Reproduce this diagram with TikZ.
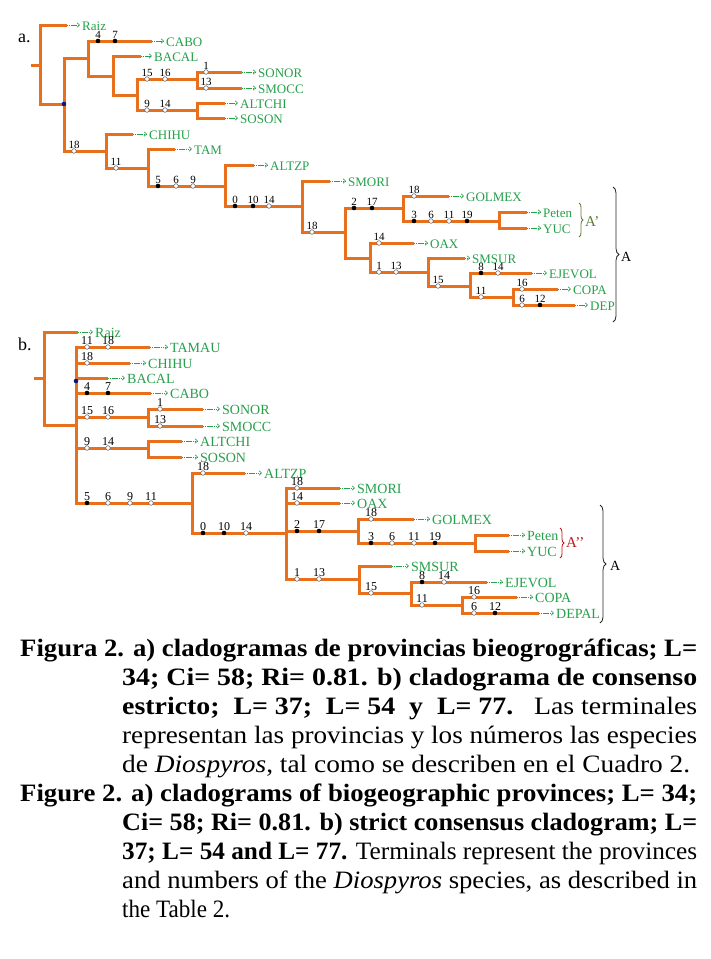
\documentclass[tikz,border=0pt]{standalone}
\usepackage{fontspec}
\setmainfont{Liberation Serif}
\usetikzlibrary{arrows.meta,decorations.pathreplacing}
\definecolor{orng}{RGB}{232,112,28}
\definecolor{lgreen}{RGB}{38,160,75}
\definecolor{olivebr}{RGB}{95,125,55}
\definecolor{dred}{RGB}{190,20,30}
\definecolor{navydot}{RGB}{20,20,120}
\tikzset{
  br/.style={draw=orng, line width=3pt, line cap=rect},
  lab/.style={text=lgreen, inner sep=0pt, font=\fontsize{13}{13}\selectfont},
  num/.style={inner sep=0pt, font=\fontsize{11}{11}\selectfont, anchor=base},
  arr/.style={draw=lgreen, line width=0.6pt, dash pattern=on 1.3pt off 0.8pt, -{Straight Barb[length=2.5pt,width=4.5pt]}, shorten >=2pt},
  opd/.style={fill=white, draw=black!65, line width=0.5pt},
  bkd/.style={fill=black},
  bracebig/.style={decorate, decoration={brace, amplitude=6pt}, line width=0.8pt, draw=black!85},
  bracesmall/.style={decorate, decoration={brace, amplitude=4pt}, line width=0.8pt},
  capt/.style={anchor=base west, inner sep=0pt, font=\fontsize{25}{25}\selectfont}
}
\newcommand{\opdot}[3]{\path[opd] (#1,#2) circle[radius=2.3pt]; \node[num] at (#1,#2-2.5) {#3};}
\newcommand{\bkdot}[3]{\path[bkd] (#1,#2) circle[radius=2.3pt]; \node[num] at (#1,#2-2.5) {#3};}
\newcommand{\cltip}[6]{%
  \draw[br] (#1,#2) -- (#3,#2);
  \coordinate (#5e) at (#3+2,#2);
  \node[lab, anchor=base west] (#5) at (#4,#2+5) {#6};
  \draw[arr] (#5e) -- (#5.west |- #5e);
}
\newcommand{\capl}[5]{\node[capt] (#1) at (#2,#3) {\resizebox{#4pt}{\height}{#5}};}
\begin{document}
\begin{tikzpicture}[x=1pt, y=-1pt]
\fill[white] (0,0) rectangle (710,959);
\useasboundingbox (0,0) rectangle (710,959);

% ---------------- tree a ----------------
\node[anchor=base west, inner sep=0pt, font=\fontsize{18}{18}\selectfont] (la) at (18,42) {a.};
\draw[br] (32,65) -- (40,65);
\draw[br] (40,25) -- (40,104);
\cltip{40}{25}{65}{82}{aRaiz}{Raiz}
\draw[br] (40,104) -- (64,104);
\draw[br] (64,58) -- (64,151);
\draw[br] (64,58) -- (88,58);
\draw[br] (88,41) -- (88,76);
\cltip{88}{41}{150}{166}{aCABO}{CABO}
\bkdot{98}{41}{4}\bkdot{115}{41}{7}
\draw[br] (88,76) -- (113,76);
\draw[br] (113,56) -- (113,95);
\cltip{113}{56}{139}{154}{aBACAL}{BACAL}
\draw[br] (113,95) -- (137,95);
\draw[br] (137,79) -- (137,110);
\draw[br] (137,79) -- (197,79);
\draw[br] (197,72) -- (197,88);
\cltip{197}{72}{240}{258}{aSONOR}{SONOR}
\cltip{197}{88}{240}{258}{aSMOCC}{SMOCC}
\opdot{147}{79}{15}\opdot{165}{79}{16}
\opdot{206}{72}{1}\opdot{206}{88}{13}
\draw[br] (137,110) -- (197,110);
\draw[br] (197,103) -- (197,118);
\cltip{197}{103}{223}{240}{aALTCHI}{ALTCHI}
\cltip{197}{118}{223}{240}{aSOSON}{SOSON}
\opdot{147}{110}{9}\opdot{165}{110}{14}
\draw[br] (64,151) -- (106,151);
\draw[br] (106,134) -- (106,168);
\cltip{106}{134}{131}{149}{aCHIHU}{CHIHU}
\draw[br] (106,168) -- (148,168);
\draw[br] (148,149) -- (148,186);
\cltip{148}{149}{173}{194}{aTAM}{TAM}
\draw[br] (148,186) -- (225,186);
\draw[br] (225,165) -- (225,206);
\cltip{225}{165}{252}{270}{aALTZP}{ALTZP}
\draw[br] (225,206) -- (302,206);
\draw[br] (302,181) -- (302,232);
\cltip{302}{181}{328}{348}{aSMORI}{SMORI}
\draw[br] (302,232) -- (345,232);
\draw[br] (345,208) -- (345,258);
\draw[br] (345,208) -- (403,208);
\draw[br] (403,196) -- (403,221);
\cltip{403}{196}{447}{466}{aGOLMEX}{GOLMEX}
\draw[br] (403,221) -- (499,221);
\draw[br] (499,212) -- (499,228);
\cltip{499}{212}{525}{543}{aPeten}{Peten}
\cltip{499}{228}{525}{543}{aYUC}{YUC}
\draw[br] (345,258) -- (370,258);
\draw[br] (370,243) -- (370,272);
\cltip{370}{243}{412}{430}{aOAX}{OAX}
\draw[br] (370,272) -- (428,272);
\draw[br] (428,258) -- (428,286);
\cltip{428}{258}{463}{472}{aSMSUR}{SMSUR}
\draw[br] (428,286) -- (470,286);
\draw[br] (470,273) -- (470,297);
\cltip{470}{273}{530}{549}{aEJEVOL}{EJEVOL}
\draw[br] (470,297) -- (513,297);
\draw[br] (513,289) -- (513,305);
\cltip{513}{289}{556}{573}{aCOPA}{COPA}
\cltip{513}{305}{573}{590}{aDEP}{DEP}
\opdot{74}{151}{18}
\opdot{116}{168}{11}
\bkdot{158}{186}{5}\opdot{176}{186}{6}\opdot{193}{186}{9}
\bkdot{235}{206}{0}\bkdot{253}{206}{10}\opdot{269}{206}{14}
\opdot{312}{232}{18}
\bkdot{354}{208}{2}\bkdot{372}{208}{17}
\opdot{414}{196}{18}
\bkdot{414}{221}{3}\opdot{431}{221}{6}\opdot{449}{221}{11}\bkdot{467}{221}{19}
\opdot{379}{243}{14}
\opdot{379}{272}{1}\opdot{396}{272}{13}
\opdot{438}{286}{15}
\bkdot{481}{273}{8}\opdot{498}{273}{14}
\opdot{481}{297}{11}
\opdot{522}{289}{16}
\opdot{522}{305}{6}\bkdot{540}{305}{12}
\fill[navydot] (64,104) circle[radius=2.3pt];
\draw[bracesmall, draw=olivebr] (579,203) -- (579,237);
\node[anchor=west, inner sep=0pt, text=olivebr, font=\fontsize{15}{15}\selectfont] (aAp) at (585,222) {A’};
\draw[bracebig] (613,187) -- (613,322);
\node[anchor=west, inner sep=0pt, font=\fontsize{14}{14}\selectfont] (aA) at (621,257) {A};

% ---------------- tree b ----------------
\begin{scope}[lab/.style={text=lgreen, inner sep=0pt, font=\fontsize{14}{14}\selectfont},
              num/.style={inner sep=0pt, font=\fontsize{12}{12}\selectfont, anchor=base}]
\node[anchor=base west, inner sep=0pt, font=\fontsize{18}{18}\selectfont] (lb) at (18,350) {b.};
\draw[br] (35,378) -- (44,378);
\draw[br] (44,332) -- (44,425);
\cltip{44}{332}{76}{95}{bRaiz}{Raiz}
\draw[br] (44,425) -- (76,425);
\draw[br] (76,347) -- (76,503);
\cltip{76}{347}{148}{170}{bTAMAU}{TAMAU}
\cltip{76}{363}{128}{148}{bCHIHU}{CHIHU}
\cltip{76}{378}{106}{127}{bBACAL}{BACAL}
\cltip{76}{393}{149}{170}{bCABO}{CABO}
\draw[br] (76,417) -- (148,417);
\draw[br] (148,409) -- (148,426);
\cltip{148}{409}{201}{222}{bSONOR}{SONOR}
\cltip{148}{426}{201}{222}{bSMOCC}{SMOCC}
\draw[br] (76,448) -- (148,448);
\draw[br] (148,441) -- (148,457);
\cltip{148}{441}{180}{200}{bALTCHI}{ALTCHI}
\cltip{148}{457}{180}{200}{bSOSON}{SOSON}
\draw[br] (76,503) -- (192,503);
\draw[br] (192,473) -- (192,533);
\cltip{192}{473}{243}{264}{bALTZP}{ALTZP}
\draw[br] (192,533) -- (286,533);
\draw[br] (286,488) -- (286,579);
\cltip{286}{488}{338}{357}{bSMORI}{SMORI}
\cltip{286}{503}{338}{357}{bOAX}{OAX}
\draw[br] (286,531) -- (358,531);
\draw[br] (358,519) -- (358,543);
\cltip{358}{519}{412}{432}{bGOLMEX}{GOLMEX}
\draw[br] (358,543) -- (475,543);
\draw[br] (475,535) -- (475,551);
\cltip{475}{535}{507}{527}{bPeten}{Peten}
\cltip{475}{551}{507}{527}{bYUC}{YUC}
\draw[br] (286,579) -- (359,579);
\draw[br] (359,566) -- (359,593);
\cltip{359}{566}{390}{411}{bSMSUR}{SMSUR}
\draw[br] (359,593) -- (411,593);
\draw[br] (411,582) -- (411,605);
\cltip{411}{582}{485}{505}{bEJEVOL}{EJEVOL}
\draw[br] (411,605) -- (462,605);
\draw[br] (462,597) -- (462,613);
\cltip{462}{597}{515}{535}{bCOPA}{COPA}
\cltip{462}{613}{537}{556}{bDEPAL}{DEPAL}
\opdot{87}{347}{11}\opdot{108}{347}{18}
\opdot{87}{363}{18}
\bkdot{87}{393}{4}\bkdot{108}{393}{7}
\opdot{87}{417}{15}\opdot{108}{417}{16}
\opdot{160}{409}{1}\opdot{160}{426}{13}
\opdot{87}{448}{9}\opdot{108}{448}{14}
\bkdot{87}{503}{5}\opdot{108}{503}{6}\opdot{130}{503}{9}\opdot{151}{503}{11}
\opdot{203}{473}{18}
\bkdot{203}{533}{0}\bkdot{224}{533}{10}\opdot{246}{533}{14}
\opdot{297}{488}{18}
\opdot{297}{503}{14}
\bkdot{297}{531}{2}\bkdot{319}{531}{17}
\opdot{371}{519}{18}
\bkdot{371}{543}{3}\opdot{392}{543}{6}\opdot{414}{543}{11}\bkdot{435}{543}{19}
\opdot{297}{579}{1}\opdot{319}{579}{13}
\opdot{371}{593}{15}
\bkdot{422}{582}{8}\opdot{444}{582}{14}
\opdot{422}{605}{11}
\opdot{474}{597}{16}
\opdot{474}{613}{6}\bkdot{495}{613}{12}
\fill[navydot] (76,381) circle[radius=2.3pt];
\draw[bracesmall, draw=dred] (560,528) -- (560,558);
\node[anchor=west, inner sep=0pt, text=dred, font=\fontsize{15}{15}\selectfont] (bApp) at (566,543) {A’’};
\draw[bracebig] (600,505) -- (600,623);
\node[anchor=west, inner sep=0pt, font=\fontsize{14}{14}\selectfont] (bA) at (610,566) {A};
\end{scope}

% ---------------- caption ----------------
\capl{c1}{20}{656}{677}{\bfseries Figura 2. a) cladogramas de provincias bieogrográficas; L=}
\capl{c2}{122}{685}{575}{\bfseries 34; Ci= 58; Ri= 0.81. b) cladograma de consenso}
\capl{c3}{122}{714}{575}{\textbf{estricto;\ \ L= 37;\ \ L= 54\ \ y\ \ L= 77.}\ \ \ Las terminales}
\capl{c4}{122}{743}{575}{representan las provincias y los números las especies}
\capl{c5}{122}{772}{568}{de \textit{Diospyros}, tal como se describen en el Cuadro 2.}
\capl{e1}{20}{801}{677}{\bfseries Figure 2. a) cladograms of biogeographic provinces; L= 34;}
\capl{e2}{122}{830}{575}{\bfseries Ci= 58; Ri= 0.81. b) strict consensus cladogram; L=}
\capl{e3}{122}{859}{575}{\textbf{37; L= 54 and L= 77.} Terminals represent the provinces}
\capl{e4}{122}{888}{575}{and numbers of the \textit{Diospyros} species, as described in}
\capl{e5}{122}{917}{108}{the Table 2.}
\end{tikzpicture}
\end{document}
